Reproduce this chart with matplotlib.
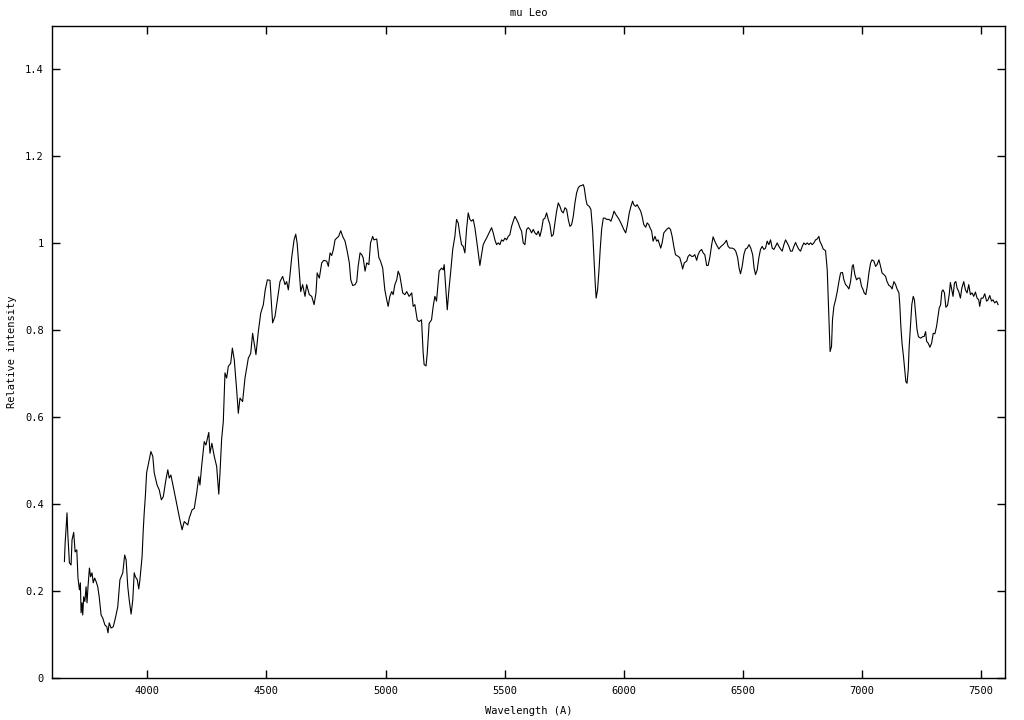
import matplotlib
matplotlib.use('Agg')
import matplotlib.pyplot as plt
from matplotlib.ticker import FormatStrFormatter, MultipleLocator

# spectrum of mu Leo
wavelength = [
    3652, 3655, 3663, 3666, 3673, 3680, 3684, 3691, 3697, 3704, 3709, 3715, 3719, 3722, 3726, 3729,
    3733, 3738, 3743, 3747, 3751, 3757, 3762, 3768, 3773, 3779, 3785, 3792, 3798, 3806, 3813, 3822,
    3830, 3835, 3840, 3848, 3857, 3866, 3876, 3885, 3897, 3905, 3911, 3918, 3924, 3932, 3939, 3945,
    3950, 3958, 3964, 3969, 3978, 3983, 3987, 3992, 3997, 4008, 4015, 4023, 4029, 4041, 4050, 4059,
    4067, 4078, 4086, 4092, 4099, 4109, 4120, 4134, 4146, 4155, 4170, 4176, 4188, 4197, 4207, 4216,
    4221, 4228, 4239, 4246, 4258, 4263, 4271, 4281, 4291, 4300, 4305, 4312, 4319, 4326, 4333, 4340,
    4350, 4357, 4365, 4375, 4382, 4389, 4400, 4410, 4424, 4434, 4442, 4456, 4466, 4476, 4487, 4495,
    4504, 4515, 4520, 4526, 4536, 4546, 4557, 4568, 4578, 4585, 4592, 4599, 4606, 4616, 4623, 4629,
    4637, 4644, 4652, 4662, 4669, 4680, 4690, 4700, 4708, 4713, 4722, 4732, 4741, 4753, 4760, 4767,
    4774, 4781, 4788, 4795, 4803, 4812, 4820, 4830, 4839, 4848, 4854, 4862, 4872, 4879, 4885, 4893,
    4900, 4906, 4914, 4921, 4930, 4937, 4946, 4951, 4963, 4972, 4979, 4988, 4997, 5005, 5011, 5018,
    5026, 5032, 5039, 5047, 5053, 5060, 5072, 5081, 5089, 5099, 5110, 5116, 5123, 5133, 5141, 5151,
    5158, 5162, 5170, 5175, 5183, 5193, 5200, 5207, 5214, 5225, 5235, 5242, 5246, 5253, 5259, 5266,
    5273, 5282, 5291, 5298, 5305, 5312, 5319, 5326, 5333, 5340, 5347, 5354, 5361, 5368, 5375, 5382,
    5389, 5396, 5403, 5410, 5417, 5424, 5431, 5438, 5445, 5452, 5459, 5466, 5473, 5480, 5487, 5494,
    5501, 5508, 5515, 5522, 5529, 5536, 5543, 5550, 5557, 5564, 5571, 5578, 5585, 5592, 5599, 5606,
    5613, 5620, 5627, 5634, 5641, 5648, 5655, 5662, 5669, 5676, 5683, 5690, 5697, 5704, 5711, 5718,
    5725, 5732, 5739, 5746, 5753, 5760, 5767, 5774, 5781, 5788, 5795, 5802, 5809, 5816, 5823, 5830,
    5834, 5841, 5846, 5855, 5862, 5869, 5875, 5880, 5884, 5890, 5896, 5901, 5907, 5914, 5921, 5928,
    5938, 5946, 5953, 5959, 5967, 5977, 5984, 5991, 6000, 6008, 6014, 6023, 6030, 6037, 6042, 6050,
    6056, 6063, 6071, 6077, 6084, 6092, 6098, 6105, 6110, 6117, 6123, 6131, 6138, 6144, 6155, 6161,
    6168, 6180, 6189, 6196, 6203, 6210, 6217, 6228, 6235, 6243, 6247, 6254, 6264, 6270, 6277, 6285,
    6291, 6298, 6306, 6312, 6319, 6327, 6333, 6340, 6348, 6354, 6361, 6369, 6375, 6382, 6389, 6399,
    6408, 6417, 6424, 6431, 6438, 6445, 6455, 6463, 6470, 6478, 6484, 6490, 6497, 6504, 6511, 6518,
    6526, 6533, 6541, 6547, 6553, 6560, 6567, 6574, 6581, 6588, 6595, 6602, 6609, 6616, 6623, 6630,
    6637, 6644, 6651, 6658, 6665, 6672, 6679, 6686, 6693, 6700, 6707, 6714, 6721, 6728, 6735, 6742,
    6749, 6756, 6763, 6770, 6777, 6784, 6791, 6798, 6805, 6812, 6819, 6823, 6830, 6837, 6847, 6854,
    6858, 6862, 6866, 6872, 6876, 6882, 6889, 6896, 6903, 6910, 6918, 6924, 6931, 6938, 6945, 6952,
    6959, 6963, 6970, 6977, 6984, 6991, 6998, 7005, 7009, 7016, 7022, 7029, 7036, 7042, 7050, 7057,
    7063, 7071, 7078, 7084, 7092, 7099, 7105, 7113, 7120, 7126, 7134, 7141, 7147, 7155, 7159, 7163,
    7168, 7174, 7180, 7184, 7189, 7194, 7198, 7204, 7209, 7215, 7220, 7226, 7231, 7237, 7246, 7254,
    7261, 7267, 7271, 7278, 7285, 7292, 7299, 7306, 7313, 7319, 7324, 7330, 7335, 7340, 7346, 7352,
    7359, 7366, 7371, 7377, 7382, 7388, 7394, 7399, 7406, 7413, 7419, 7427, 7434, 7441, 7448, 7455,
    7462, 7469, 7476, 7483, 7490, 7494, 7500, 7508, 7515, 7523, 7529, 7536, 7544, 7550, 7557, 7565,
    7571,
]

intensity = [
    0.268, 0.31, 0.38, 0.334, 0.265, 0.26, 0.318, 0.335, 0.29, 0.295, 0.23, 0.203, 0.219, 0.15, 0.173, 0.145,
    0.187, 0.176, 0.21, 0.173, 0.21, 0.253, 0.233, 0.242, 0.219, 0.23, 0.222, 0.21, 0.187, 0.145, 0.138, 0.122,
    0.118, 0.104, 0.127, 0.115, 0.118, 0.138, 0.164, 0.226, 0.242, 0.283, 0.272, 0.21, 0.18, 0.147, 0.18, 0.242,
    0.233, 0.226, 0.205, 0.226, 0.279, 0.341, 0.38, 0.42, 0.472, 0.502, 0.521, 0.51, 0.472, 0.444, 0.433, 0.41,
    0.417, 0.456, 0.479, 0.46, 0.467, 0.44, 0.41, 0.371, 0.341, 0.36, 0.352, 0.368, 0.387, 0.39, 0.425, 0.463,
    0.444, 0.487, 0.544, 0.536, 0.565, 0.517, 0.54, 0.51, 0.487, 0.423, 0.471, 0.55, 0.59, 0.702, 0.69, 0.717,
    0.724, 0.759, 0.732, 0.663, 0.609, 0.644, 0.636, 0.69, 0.736, 0.747, 0.793, 0.744, 0.797, 0.839, 0.859, 0.893,
    0.916, 0.915, 0.87, 0.817, 0.832, 0.87, 0.912, 0.924, 0.905, 0.912, 0.893, 0.928, 0.967, 1.008, 1.021, 1.0,
    0.939, 0.889, 0.905, 0.878, 0.905, 0.882, 0.878, 0.859, 0.886, 0.932, 0.92, 0.955, 0.961, 0.959, 0.947, 0.978,
    0.972, 0.986, 1.008, 1.012, 1.016, 1.029, 1.016, 1.005, 0.982, 0.955, 0.916, 0.903, 0.905, 0.912, 0.947, 0.978,
    0.974, 0.967, 0.936, 0.955, 0.951, 1.001, 1.016, 1.008, 1.01, 0.967, 0.959, 0.943, 0.893, 0.87, 0.855, 0.878,
    0.889, 0.882, 0.905, 0.916, 0.936, 0.926, 0.886, 0.882, 0.889, 0.878, 0.886, 0.855, 0.859, 0.824, 0.82, 0.824,
    0.747, 0.721, 0.718, 0.747, 0.816, 0.824, 0.855, 0.878, 0.867, 0.936, 0.943, 0.939, 0.951, 0.893, 0.847, 0.893,
    0.932, 0.986, 1.016, 1.055, 1.047, 1.02, 0.997, 0.993, 0.978, 1.032, 1.07, 1.055, 1.051, 1.055, 1.036, 1.008,
    0.978, 0.949, 0.974, 0.997, 1.005, 1.012, 1.02, 1.028, 1.036, 1.024, 1.008, 0.997, 1.001, 0.997, 1.008, 1.005,
    1.012, 1.008, 1.016, 1.02, 1.039, 1.051, 1.062, 1.055, 1.047, 1.036, 1.028, 1.001, 0.997, 1.032, 1.036, 1.032,
    1.024, 1.032, 1.024, 1.02, 1.028, 1.016, 1.032, 1.055, 1.058, 1.07, 1.055, 1.043, 1.016, 1.02, 1.047, 1.074,
    1.093, 1.085, 1.074, 1.07, 1.082, 1.078, 1.055, 1.039, 1.043, 1.062, 1.093, 1.116, 1.128, 1.132, 1.133, 1.135,
    1.128, 1.101, 1.089, 1.085, 1.078, 1.032, 0.962, 0.909, 0.874, 0.893, 0.939, 0.986, 1.032, 1.058, 1.058, 1.055,
    1.055, 1.051, 1.062, 1.074, 1.066, 1.058, 1.051, 1.043, 1.032, 1.024, 1.039, 1.07, 1.085, 1.097, 1.089, 1.085,
    1.089, 1.082, 1.074, 1.062, 1.043, 1.037, 1.047, 1.043, 1.036, 1.028, 1.005, 1.016, 1.005, 1.008, 0.989, 1.001,
    1.024, 1.032, 1.036, 1.032, 1.016, 0.993, 0.974, 0.97, 0.967, 0.951, 0.941, 0.955, 0.959, 0.97, 0.974, 0.97,
    0.97, 0.974, 0.961, 0.974, 0.982, 0.986, 0.978, 0.974, 0.949, 0.949, 0.967, 0.997, 1.015, 1.005, 0.997, 0.987,
    0.993, 0.997, 1.001, 1.007, 0.993, 0.989, 0.989, 0.987, 0.982, 0.967, 0.943, 0.93, 0.947, 0.974, 0.987, 0.989,
    0.997, 0.989, 0.974, 0.943, 0.928, 0.939, 0.967, 0.986, 0.993, 0.986, 0.989, 1.005, 0.997, 1.008, 0.989, 0.986,
    0.993, 1.001, 0.993, 0.987, 0.982, 0.997, 1.008, 1.001, 0.993, 0.982, 0.982, 0.993, 1.002, 0.993, 0.986, 0.982,
    0.993, 1.001, 0.997, 1.001, 0.997, 1.001, 0.997, 1.001, 1.008, 1.01, 1.016, 1.005, 0.997, 0.987, 0.983, 0.939,
    0.878, 0.816, 0.751, 0.763, 0.824, 0.855, 0.87, 0.889, 0.912, 0.932, 0.933, 0.916, 0.905, 0.901, 0.895, 0.912,
    0.947, 0.951, 0.928, 0.916, 0.92, 0.92, 0.901, 0.893, 0.886, 0.882, 0.901, 0.932, 0.955, 0.962, 0.959, 0.947,
    0.951, 0.962, 0.947, 0.932, 0.928, 0.924, 0.912, 0.903, 0.901, 0.895, 0.912, 0.905, 0.895, 0.886, 0.855, 0.809,
    0.77, 0.74, 0.705, 0.682, 0.678, 0.709, 0.763, 0.816, 0.859, 0.878, 0.87, 0.832, 0.801, 0.785, 0.782, 0.785,
    0.786, 0.797, 0.775, 0.77, 0.761, 0.77, 0.793, 0.792, 0.809, 0.832, 0.851, 0.859, 0.889, 0.893, 0.886, 0.853,
    0.857, 0.882, 0.91, 0.893, 0.878, 0.909, 0.912, 0.897, 0.889, 0.874, 0.897, 0.912, 0.893, 0.886, 0.905, 0.882,
    0.886, 0.878, 0.888, 0.874, 0.87, 0.855, 0.874, 0.874, 0.884, 0.867, 0.87, 0.88, 0.867, 0.87, 0.863, 0.867,
    0.859,
]

font = 'DejaVu Sans Mono'
fs = 7.5

fig = plt.figure(figsize=(10.24, 7.2), dpi=100)
ax = fig.add_axes([0.0508, 0.0583, 0.9306, 0.9056])

ax.plot(wavelength, intensity, color='black', linewidth=0.8)

ax.set_xlim(3600, 7600)
ax.set_ylim(0, 1.5)
ax.xaxis.set_major_locator(MultipleLocator(500))
ax.yaxis.set_major_locator(MultipleLocator(0.2))
ax.yaxis.set_major_formatter(FormatStrFormatter('%g'))
ax.tick_params(direction='in', length=6, width=1, top=True, right=True,
               labelsize=fs, pad=6)
for lab in ax.get_xticklabels() + ax.get_yticklabels():
    lab.set_fontfamily(font)
for sp in ax.spines.values():
    sp.set_linewidth(1)

ax.set_title('mu Leo', fontsize=fs, fontfamily=font, pad=7)
ax.set_xlabel('Wavelength (A)', fontsize=fs, fontfamily=font, labelpad=7)
ax.set_ylabel('Relative intensity', fontsize=fs, fontfamily=font, labelpad=6)

fig.savefig('out.png', dpi=100)
